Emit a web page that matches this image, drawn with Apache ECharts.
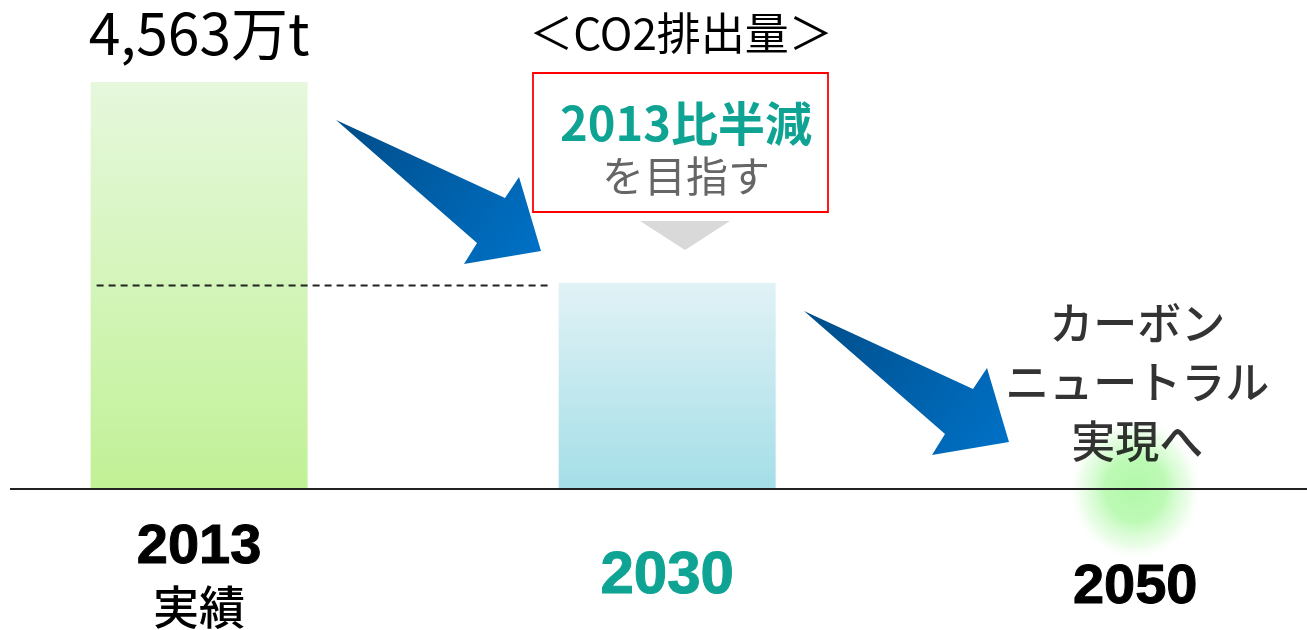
<!DOCTYPE html>
<html>
<head>
<meta charset="utf-8">
<script src="https://cdn.jsdelivr.net/npm/echarts@6/dist/echarts.min.js"></script>
<style>
  html, body { margin: 0; padding: 0; background: #fff; }
  #main { width: 1307px; height: 630px; }
</style>
</head>
<body>
<div id="main"></div>
<script>
// 年度
var years = ['2013', '2030', '2050'];
// CO2排出量（万t）
var emissions = [4563, 2310, '-'];
// カーボンニュートラル（2050年はゼロ）
var neutral = ['-', '-', 0];
var yearNotes = ['実績', '', ''];
var targetText = '2013比半減';
var targetSub = 'を目指す';
var titleText = '＜CO2排出量＞';
var neutralText = 'カーボン\nニュートラル\n実現へ';

var jp = 'Noto Sans CJK JP';
var latin = 'Liberation Sans';
var teal = '#0fa393';

function grad(top, bottom) {
  return new echarts.graphic.LinearGradient(0, 0, 0, 1, [
    { offset: 0, color: top },
    { offset: 1, color: bottom }
  ]);
}
var barColors = [grad('#e6f8dd', '#c1f196'), grad('#e1f2f6', '#a4dee7')];

// 年度の位置は番号で持つ（0,1,2）
function pairs(arr) {
  var out = [];
  arr.forEach(function (v, i) { if (v !== '-') out.push([i, v]); });
  return out;
}

var chart = echarts.init(document.getElementById('main'));

var option = {
  animation: false,
  grid: { left: 10, right: 0, top: 43, bottom: 139 },
  xAxis: {
    type: 'value',
    min: -0.404,
    max: 2.367,
    splitLine: { show: false },
    axisLine: { show: false },
    axisTick: { show: false },
    axisLabel: {
      customValues: [0, 1, 2],
      margin: 28,
      formatter: function (v) {
        var i = Math.round(v);
        if (i === 0) return '{y13|' + years[0] + '}\n{note|' + yearNotes[0] + '}';
        if (i === 1) return '{y30|' + years[1] + '}';
        return '{y50|' + years[2] + '}';
      },
      rich: {
        y13: { fontFamily: latin, fontWeight: 'bold', fontSize: 56, color: '#000', lineHeight: 62, textBorderColor: '#000', textBorderWidth: 1 },
        note: { fontFamily: jp, fontWeight: 500, fontSize: 46, color: '#000', lineHeight: 56 },
        y30: { fontFamily: latin, fontWeight: 'bold', fontSize: 60, color: teal, lineHeight: 118, textBorderColor: teal, textBorderWidth: 1 },
        y50: { fontFamily: latin, fontWeight: 'bold', fontSize: 56, color: '#000', lineHeight: 142, textBorderColor: '#000', textBorderWidth: 1 }
      }
    }
  },
  yAxis: { type: 'value', min: 0, max: 5000, show: false },
  series: [
    {
      type: 'bar',
      barWidth: 217,
      data: pairs(emissions).map(function (d) {
        var item = { value: d, itemStyle: { color: barColors[d[0]] } };
        if (d[0] === 0) {
          item.label = {
            show: true,
            position: 'top',
            distance: 20,
            fontFamily: jp,
            fontSize: 57,
            color: '#000',
            formatter: function (p) {
              return p.value[1].toLocaleString('en-US') + '万t';
            }
          };
        }
        return item;
      })
    },
    {
      type: 'scatter',
      data: pairs(neutral),
      symbol: 'circle',
      symbolSize: [134, 144],
      z: 1,
      itemStyle: {
        color: {
          type: 'radial', x: 0.5, y: 0.5, r: 0.5,
          colorStops: [
            { offset: 0, color: 'rgba(158,247,148,1)' },
            { offset: 0.45, color: 'rgba(168,248,158,0.95)' },
            { offset: 0.8, color: 'rgba(210,251,204,0.55)' },
            { offset: 1, color: 'rgba(255,255,255,0)' }
          ]
        }
      },
      label: {
        show: true,
        position: 'inside',
        offset: [2, -107],
        formatter: neutralText,
        fontFamily: jp,
        fontWeight: 500,
        fontSize: 44,
        lineHeight: 59,
        color: '#000'
      }
    }
  ]
};

chart.setOption(option);

// 矢印の形（尾の先端からの相対位置）
var arrowShape = [[0, 0], [169, 78], [183, 57], [205, 131], [128, 144], [141, 123]];
function arrow(x, y) {
  return {
    type: 'polygon',
    z: 10,
    shape: { points: arrowShape.map(function (p) { return [p[0] + x, p[1] + y]; }) },
    style: {
      fill: new echarts.graphic.LinearGradient(0, 0, 1, 1, [
        { offset: 0, color: '#004c88' },
        { offset: 1, color: '#0072c8' }
      ])
    }
  };
}

var base = chart.convertToPixel({ gridIndex: 0 }, [0, 0]);
var half0 = chart.convertToPixel({ gridIndex: 0 }, [0, emissions[0] / 2]);
var half1 = chart.convertToPixel({ gridIndex: 0 }, [1, emissions[0] / 2]);
var bw = 217;

chart.setOption({
  graphic: [
    {
      type: 'line', z: 5,
      shape: { x1: 10, y1: base[1], x2: 1307, y2: base[1] },
      style: { stroke: '#222', lineWidth: 2 }
    },
    {
      type: 'line', z: 5,
      shape: { x1: half0[0] - bw / 2 + 6, y1: half0[1], x2: half1[0] - bw / 2 - 8, y2: half1[1] },
      style: { stroke: '#222', lineWidth: 2, lineDash: [7, 5] }
    },
    arrow(336, 120),
    arrow(804, 311),
    {
      type: 'text', z: 10,
      style: { text: titleText, x: 681, y: 33, align: 'center', verticalAlign: 'middle', fontFamily: jp, fontSize: 44, fill: '#000' }
    },
    {
      type: 'rect', z: 9,
      shape: { x: 533, y: 73, width: 295, height: 139 },
      style: { fill: '#fff', stroke: '#ff0000', lineWidth: 1.8 }
    },
    {
      type: 'text', z: 10,
      style: { text: targetText, x: 686, y: 123, align: 'center', verticalAlign: 'middle', fontFamily: jp, fontWeight: 'bold', fontSize: 47, fill: teal }
    },
    {
      type: 'text', z: 10,
      style: { text: targetSub, x: 686, y: 176, align: 'center', verticalAlign: 'middle', fontFamily: jp, fontSize: 42, fill: '#666' }
    },
    {
      type: 'polygon', z: 9,
      shape: { points: [[640, 221], [730, 221], [685, 250]] },
      style: { fill: '#d9d9d9' }
    }
  ]
});
</script>
</body>
</html>
